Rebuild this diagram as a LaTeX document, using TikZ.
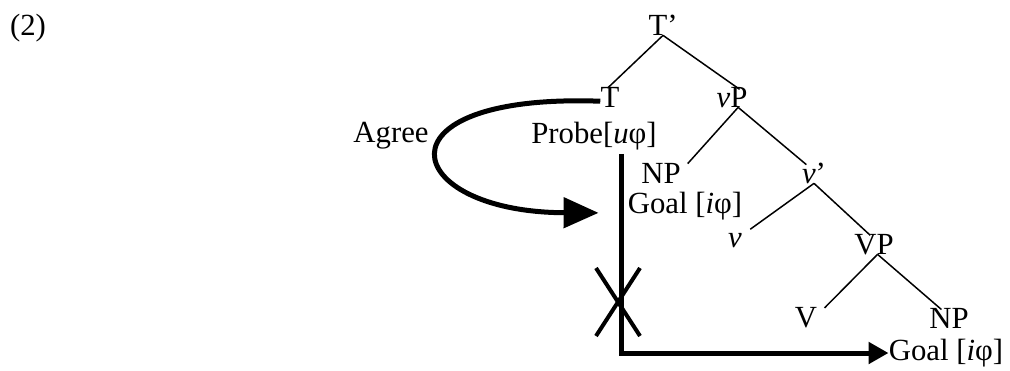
\documentclass[tikz,border=0pt]{standalone}
\usepackage{fontspec}
\setmainfont{Liberation Serif}
\usetikzlibrary{arrows.meta}
\begin{document}
\begin{tikzpicture}[x=0.02cm, y=-0.02cm,
  font=\fontsize{17.5}{21}\selectfont,
  cat/.style={inner sep=0pt, anchor=base, text height=0.66em, text depth=0pt},
  lbl/.style={inner sep=0pt, anchor=base},
  branch/.style={line width=0.85pt, shorten >=0.2cm},
  heavy/.style={line width=0.1cm},
  agreearrow/.style={heavy, -{Triangle[length=0.7cm, width=0.6cm]}, shorten >=0.58cm},
  goalarrow/.style={heavy, -{Triangle[length=0.4cm, width=0.42cm]}}]
  \useasboundingbox (0,0) rectangle (1010,370);
  \node[lbl] (ex) at (28,35) {(2)};
  \node[cat] (Tbar) at (663,35) {T'};
  \node[cat] (T) at (610,107) {T};
  \node[cat] (vP) at (732,107) {\textit{v}P};
  \node[lbl] (agree) at (391,142) {Agree};
  \node[lbl] (probe) at (594,143) {Probe[\textit{u}φ]};
  \node[cat] (NPa) at (661,183) {NP};
  \node[cat] (vbar) at (814,183) {\textit{v}'};
  \node[lbl] (goala) at (685,213) {Goal [\textit{i}φ]};
  \node[cat] (v) at (735,247) {\textit{v}};
  \node[cat] (VP) at (874,254) {VP};
  \node[cat] (V) at (806,327) {V};
  \node[cat] (NPb) at (949,328) {NP};
  \node[lbl] (goalb) at (946,360) {Goal [\textit{i}φ]};

  \draw[branch] (Tbar.south) -- (T.north west);
  \draw[branch] (Tbar.south) -- (vP.north east);
  \draw[branch] (vP.-45) -- (NPa.north east);
  \draw[branch] (vP.-45) -- (vbar.north);
  \draw[branch] (vbar.south) -- (v.north east);
  \draw[branch] (vbar.south) -- (VP.60);
  \draw[branch] (VP.-60) -- (V.north east);
  \draw[branch] (VP.-60) -- (NPb.north);

  \draw[agreearrow] (T.west) .. controls (370,93) and (400,212) .. (goala.base west);
  \coordinate (bend) at (621,353);
  \draw[goalarrow, shorten <=0.08cm] (bend |- probe.south) -- (bend) -- (bend -| goalb.west);
  \coordinate (cut) at (618,302);
  \draw[line width=0.08cm] (cut) ++(-22,-34) -- ++(44,68) (cut) ++(22,-34) -- ++(-44,68);
\end{tikzpicture}
\end{document}
